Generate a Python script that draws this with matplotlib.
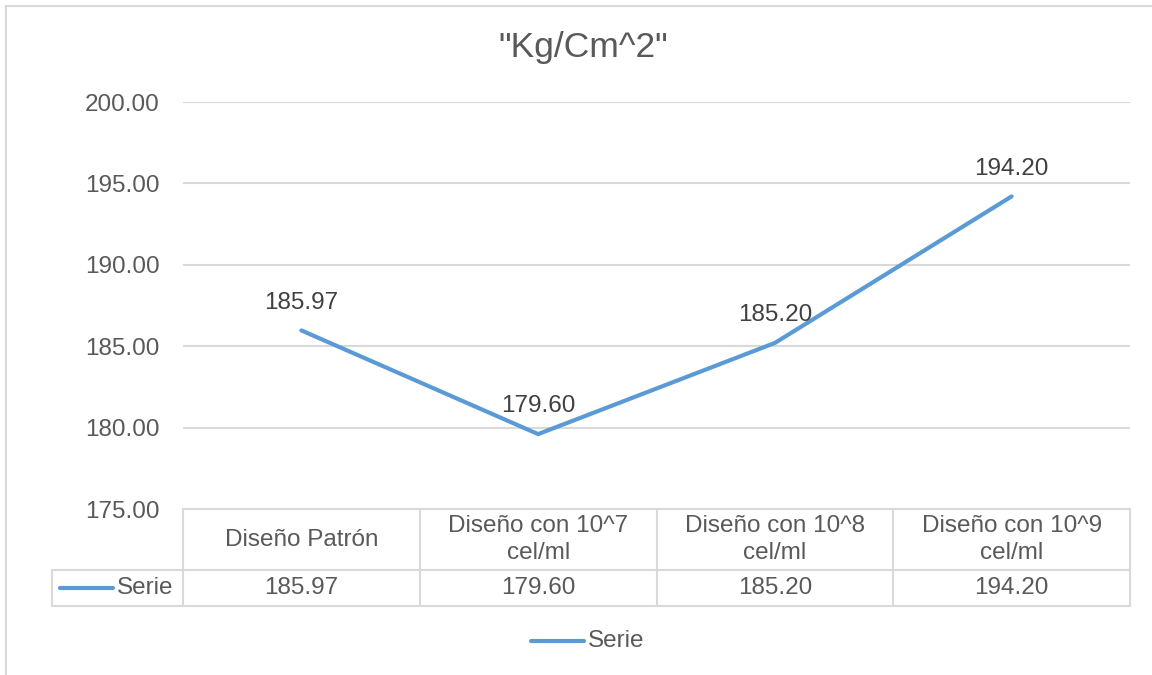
import matplotlib.pyplot as plt
from matplotlib import transforms
from matplotlib.lines import Line2D

categories = ["Diseño Patrón", "Diseño con 10^7\ncel/ml", "Diseño con 10^8\ncel/ml", "Diseño con 10^9\ncel/ml"]
values = [185.97, 179.60, 185.20, 194.20]
series_name = "Serie"
title = '"Kg/Cm^2"'
y_ticks = [175, 180, 185, 190, 195, 200]

plt.rcParams['font.family'] = ['Liberation Sans', 'DejaVu Sans']
text_col = '#595959'
grid_col = '#D9D9D9'
line_col = '#5B9BD5'

fig = plt.figure(figsize=(11.52, 6.75), dpi=100)
W, H = 1152, 675

# chart frame (only top and left edges fall inside the image)
fig.add_artist(Line2D([6 / W, 6 / W], [0, 1 - 6 / H], transform=fig.transFigure, color=grid_col, lw=1.5))
fig.add_artist(Line2D([6 / W, 1], [1 - 6 / H, 1 - 6 / H], transform=fig.transFigure, color=grid_col, lw=1.5))

ax = fig.add_axes([183 / W, 1 - 509 / H, (1130 - 183) / W, (509 - 102) / H])
x = list(range(len(values)))
ax.plot(x, values, color=line_col, lw=3, solid_capstyle='round', zorder=3)
for xi, v in zip(x, values):
    ax.annotate(f"{v:.2f}", (xi, v), xytext=(0, 20), textcoords='offset points',
                ha='center', va='center', fontsize=17.5, color='#404040')

ax.set_xlim(-0.5, len(values) - 0.5)
ax.set_ylim(175, 200)
ax.set_yticks(y_ticks)
ax.set_yticklabels([f"{t:.2f}" for t in y_ticks])
ax.set_xticks([])
ax.tick_params(axis='y', length=0, labelsize=17.5, labelcolor=text_col, pad=17)
for s in ax.spines.values():
    s.set_visible(False)
ax.grid(axis='y', color=grid_col, lw=1.5)
ax.set_axisbelow(True)

fig.text(583 / W, 1 - 48 / H, title, ha='center', va='center', fontsize=25.5, color=text_col)

# data table below the plot
blend = transforms.blended_transform_factory(ax.transData, ax.transAxes)
ax_h = 509 - 102
y_head = -61 / ax_h
y_data = -97 / ax_h
x_key = -0.5 - (183 - 52) / ((1130 - 183) / len(values))
n = len(values)
kw = dict(transform=blend, color=grid_col, lw=1.5, clip_on=False)
ax.plot([-0.5, n - 0.5], [0, 0], **kw)
ax.plot([x_key, n - 0.5], [y_head, y_head], **kw)
ax.plot([x_key, n - 0.5], [y_data, y_data], **kw)
ax.plot([x_key, x_key], [y_head, y_data], **kw)
for xb in [i - 0.5 for i in range(n + 1)]:
    ax.plot([xb, xb], [0, y_data], **kw)
for xi, cat, v in zip(x, categories, values):
    ax.text(xi, y_head / 2, cat, transform=blend, ha='center', va='center',
            fontsize=17.5, color=text_col, linespacing=1.25)
    ax.text(xi, (y_head + y_data) / 2, f"{v:.2f}", transform=blend, ha='center', va='center',
            fontsize=17.5, color=text_col)

# legend key inside the table
fig.add_artist(Line2D([60 / W, 113 / W], [1 - 588 / H] * 2, transform=fig.transFigure,
                      color=line_col, lw=3, solid_capstyle='round'))
fig.text(117 / W, 1 - 588 / H, series_name, ha='left', va='center', fontsize=17.5, color=text_col)

# legend below the chart
fig.add_artist(Line2D([531 / W, 584 / W], [1 - 641 / H] * 2, transform=fig.transFigure,
                      color=line_col, lw=3, solid_capstyle='round'))
fig.text(588 / W, 1 - 641 / H, series_name, ha='left', va='center', fontsize=17.5, color=text_col)

fig.savefig("out.png", dpi=100)
